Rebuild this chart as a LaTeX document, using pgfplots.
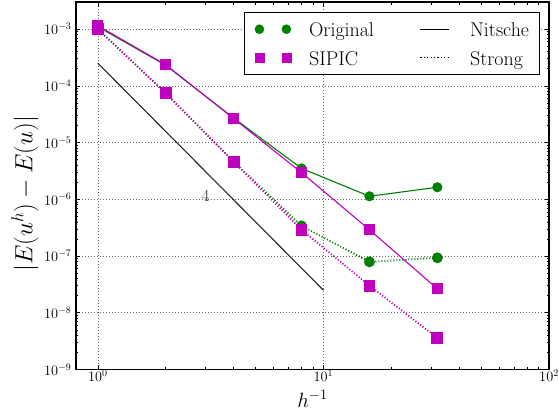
\documentclass[border=0pt]{standalone}
\usepackage{pgfplots}
\pgfplotsset{compat=1.18}
\definecolor{mplgreen}{rgb}{0,0.5,0}
\definecolor{mplmag}{rgb}{0.75,0,0.75}

\pgfplotstableread{
x     origN     origS     sipN      sipS
1     1.10e-3   1.00e-3   1.15e-3   1.00e-3
2     2.30e-4   7.40e-5   2.35e-4   7.40e-5
4     2.70e-5   4.60e-6   2.65e-5   4.60e-6
8     3.50e-6   3.40e-7   2.95e-6   2.90e-7
16    1.13e-6   7.90e-8   2.90e-7   3.00e-8
32    1.63e-6   9.30e-8   2.65e-8   3.60e-9
}\errdata

\tikzset{
  strongline/.style={line width=1.8bp, dash pattern=on 1.1bp off 1.9bp},
  nitscheline/.style={line width=1.1bp},
}
\newcommand\legfont{\fontsize{20}{22}\selectfont}
% common footprint of every legend sample
\newcommand\legframe{\path[draw=none, fill=none] (-4.5bp,-5bp) rectangle (32bp,5bp);}

\begin{document}
\begin{tikzpicture}
\useasboundingbox (-76bp,-41.5bp) rectangle (483bp,369.5bp);
\begin{axis}[
  at={(0,0)}, anchor=south west,
  scale only axis, width=473bp, height=367.5bp,
  xmode=log, ymode=log,
  xmin=0.8, xmax=100, ymin=1e-9, ymax=3e-3,
  xtick={1,10,100},
  ytick={1e-9,1e-8,1e-7,1e-6,1e-5,1e-4,1e-3},
  tick pos=both, tick align=inside,
  major tick length=4.5bp, minor tick length=2.5bp,
  every tick/.style={black, line width=0.6bp},
  axis line style={black, line width=1.1bp},
  grid=major,
  major grid style={black!60, line width=0.6bp, dash pattern=on 1bp off 2bp},
  tick label style={font=\fontsize{14}{16}\selectfont},
  xticklabel style={inner ysep=1bp, yshift=0.5bp},
  yticklabel style={xshift=-1bp},
  label style={inner sep=0bp},
  xlabel={$h^{-1}$},
  ylabel={$|E(u^h)-E(u)|$},
  xlabel style={font=\fontsize{21}{24}\selectfont,
    at={(axis description cs:0.5,0)}, anchor=base, yshift=-37.5bp},
  ylabel style={font=\fontsize{24}{27}\selectfont,
    at={(axis description cs:0,0.5)}, anchor=center, yshift=51bp, xshift=-8bp},
  legend columns=2,
  legend cell align=left,
  legend style={at={(0.981,0.9736)}, anchor=north east,
    font=\legfont, draw=black, line width=1bp,
    inner xsep=10.5bp, inner ysep=7.3bp, row sep=8.9bp,
    nodes={inner sep=0bp, text height=17.4bp, text depth=2bp},
    /tikz/every odd column/.append style={column sep=17.7bp},
    /tikz/every even column/.append style={column sep=42bp}},
]
% Nitsche (solid) and strong (dotted) imposition, original scheme
\addplot[mplgreen, nitscheline, mark=*, mark size=4.5bp,
  mark options={solid, fill=mplgreen, draw=mplgreen}, forget plot]
  table[x=x, y=origN] {\errdata};
\addplot[mplgreen, strongline, mark=*, mark size=4.5bp,
  mark options={solid, fill=mplgreen, draw=mplgreen}, forget plot]
  table[x=x, y=origS] {\errdata};
% same for the SIPIC scheme
\addplot[mplmag, nitscheline, mark=square*, mark size=5bp,
  mark options={solid, fill=mplmag, draw=mplmag}, forget plot]
  table[x=x, y=sipN] {\errdata};
\addplot[mplmag, strongline, mark=square*, mark size=5bp,
  mark options={solid, fill=mplmag, draw=mplmag}, forget plot]
  table[x=x, y=sipS] {\errdata};
% slope-4 reference line
\addplot[black!85, line width=1.1bp, forget plot]
  coordinates {(1,2.5e-4) (10,2.5e-8)};
\node[black!80] at (axis cs:3.0,1.15e-6) {\fontsize{17}{19}\selectfont 4};

% legend entries
\addlegendimage{legend image code/.code={\legframe
  \draw[mplgreen, fill=mplgreen, line width=0.5bp] plot[only marks, mark=*, mark size=4.5bp]
    coordinates {(0bp,0bp) (27bp,0bp)};}}
\addlegendentry{\legfont Original}
\addlegendimage{legend image code/.code={\legframe
  \draw[black, line width=1.1bp] (0bp,0bp) -- (29bp,0bp);}}
\addlegendentry{\legfont Nitsche}
\addlegendimage{legend image code/.code={\legframe
  \draw[mplmag, fill=mplmag, line width=0.5bp] plot[only marks, mark=square*, mark size=4.5bp]
    coordinates {(0bp,0bp) (27bp,0bp)};}}
\addlegendentry{\legfont SIPIC}
\addlegendimage{legend image code/.code={\legframe
  \draw[black, line width=1.4bp, dash pattern=on 1.2bp off 2.2bp] (0bp,0bp) -- (29bp,0bp);}}
\addlegendentry{\legfont Strong}
\end{axis}
\end{tikzpicture}
\end{document}
